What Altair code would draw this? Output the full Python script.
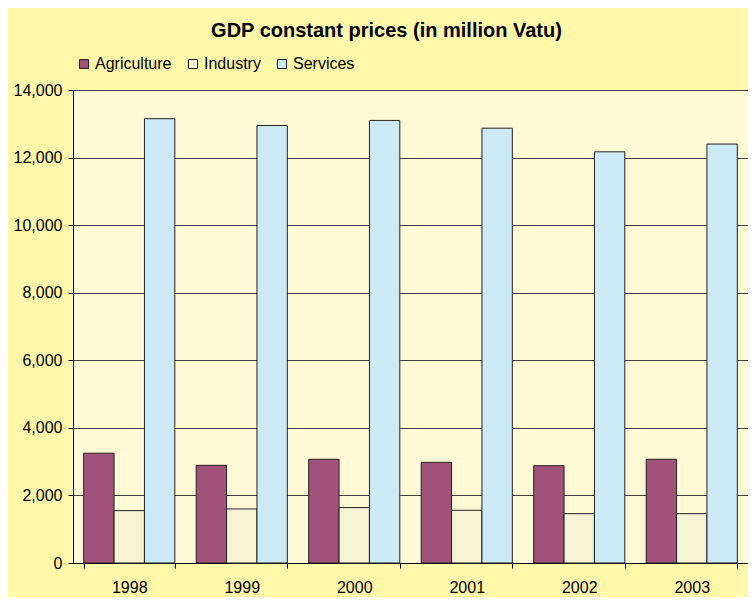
import altair as alt
import pandas as pd

years = ["1998", "1999", "2000", "2001", "2002", "2003"]
sectors = ["Agriculture", "Industry", "Services"]
agriculture = [3250, 2890, 3070, 2980, 2880, 3070]
industry = [1550, 1600, 1640, 1560, 1460, 1460]
services = [13150, 12950, 13100, 12870, 12170, 12400]
colors = ["#A0527A", "#F5F2D6", "#CCE9F5"]
y_ticks = [0, 2000, 4000, 6000, 8000, 10000, 12000, 14000]

rows = []
for i, yr in enumerate(years):
    for s, vals in zip(sectors, [agriculture, industry, services]):
        rows.append({"Year": yr, "Sector": s, "Value": vals[i]})
df = pd.DataFrame(rows)

FONT = "Liberation Sans"

chart = alt.Chart(df).mark_bar(stroke="#222222", strokeWidth=1).encode(
    x=alt.X("Year:N", title=None, sort=years,
            scale=alt.Scale(paddingInner=0.19, paddingOuter=0.095),
            axis=alt.Axis(labelAngle=0, tickBand="extent", tickSize=5,
                          labelPadding=11, labelFontSize=16, labelFont=FONT,
                          labelColor="#000000", domainColor="#000000",
                          tickColor="#000000", grid=False)),
    xOffset=alt.XOffset("Sector:N", sort=sectors),
    y=alt.Y("Value:Q", title=None,
            scale=alt.Scale(domain=[0, 14000], nice=False),
            axis=alt.Axis(values=y_ticks, format=",d", tickSize=5, labelPadding=6,
                          labelFontSize=16, labelFont=FONT, labelColor="#000000",
                          domainColor="#000000", tickColor="#000000",
                          gridColor="#404040", gridWidth=1)),
    color=alt.Color("Sector:N", sort=sectors,
                    scale=alt.Scale(domain=sectors, range=colors),
                    legend=alt.Legend(title=None, orient="none", direction="horizontal",
                                      legendX=3, legendY=-34, symbolType="square",
                                      symbolSize=81, symbolStrokeColor="#222222",
                                      symbolStrokeWidth=1, labelFontSize=16,
                                      labelFont=FONT, labelColor="#000000",
                                      labelOffset=3, columnPadding=13, padding=0)),
).properties(
    width=675,
    height=473,
    title=alt.TitleParams("GDP constant prices (in million Vatu)", fontSize=20,
                          font=FONT, fontWeight="bold", color="#000000",
                          anchor="middle", dx=-24, offset=15),
    background="#FFF8AA",
    padding={"left": 65, "top": 82, "right": 0, "bottom": 34},
    autosize=alt.AutoSizeParams(type="none"),
).configure_view(
    fill="#FFFAD5",
    stroke="#C8C8C8",
    strokeWidth=1,
)

chart.save("out.html", embed_options={"renderer": "svg", "actions": False})
